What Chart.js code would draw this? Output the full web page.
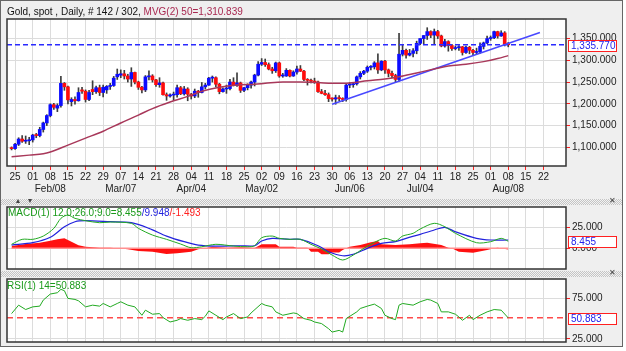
<!DOCTYPE html>
<html>
<head>
<meta charset="utf-8">
<script src="https://cdn.jsdelivr.net/npm/chart.js@4.4.0/dist/chart.umd.min.js"></script>
<style>
  body { margin: 0; background: #fff; font-family: "Liberation Sans", Arial, sans-serif; }
  #frame { position: absolute; left: 0; top: 0; width: 621px; height: 345px; background: #efefef; border: 1px solid #666; }
  canvas { position: absolute; left: 0; }
  .split { position: absolute; left: 1px; width: 621px; height: 6px;
    background-image: repeating-conic-gradient(#c4c4c4 0% 25%, #f2f2f2 0% 50%); background-size: 2px 2px; }
  .split .ic { position: absolute; top: -3px; font-size: 8px; color: #444; }
  .txt { position: absolute; font-size: 10px; line-height: 12px; white-space: pre; }
</style>
</head>
<body>
<div id="frame"></div>
<canvas id="main" width="626" height="197" style="top:0"></canvas>
<div class="split" style="top:199px"><span class="ic" style="left:15px">&#9652;</span><span class="ic" style="left:27px">&#9662;</span><span class="ic" style="left:608px">&#10005;</span></div>
<canvas id="macd" width="626" height="80" style="top:198px"></canvas>
<div class="split" style="top:271px"><span class="ic" style="left:608px">&#10005;</span></div>
<canvas id="rsi" width="626" height="81" style="top:270px"></canvas>
<div class="txt" style="left:7px;top:6px;color:#111">Gold, spot , Daily, # 142 / 302, <span style="color:#a82850">MVG(2) 50=1,310.839</span></div>
<div class="txt" style="left:8px;top:207px;color:#1a9a1a">MACD(1) 12.0;26.0;9.0=8.455<span style="color:#2222dd">/9.948</span><span style="color:#ff2020">/-1.493</span></div>
<div class="txt" style="left:7px;top:280px;color:#1a9a1a">RSI(1) 14=50.883</div>
<script>
// trading days: index 0 = Jan 22, 1 = Mon Jan 25, ... 141 = Mon Aug 08
const dayTicks = [1,6,11,16,21,26,31,36,41,46,51,56,61,66,71,76,81,86,91,96,101,106,111,116,121,126,131,136,141,146,151];
const dayLabels = ['25','01','08','15','22','29','07','14','21','28','04','11','18','25','02','09','16','23','30','06','13','20','27','04','11','18','25','01','08','15','22'];
const monthLabels = ['','','Feb/08','','','','Mar/07','','','','Apr/04','','','','May/02','','','','','Jun/06','','','','Jul/04','','','','','Aug/08','',''];

const open = [1098,1097,1107,1119,1114,1115,1117,1128,1127,1141,1156,1173,1198,1190,1196,1247,1239,1205,1210,1207,
  1232,1229,1210,1233,1228,1237,1226,1232,1240,1242,1262,1266,1269,1264,1257,1272,1250,1238,1232,1262,
  1264,1255,1244,1248,1221,1218,1220,1221,1237,1223,1234,1222,1218,1229,1226,1239,1243,1259,1260,1245,
  1228,1234,1235,1250,1242,1248,1231,1237,1243,1250,1266,1291,1295,1290,1280,1276,1294,1264,1264,1277,
  1264,1273,1280,1275,1256,1254,1252,1250,1228,1224,1221,1212,1211,1214,1212,1210,1243,1244,1246,1262,
  1270,1275,1284,1285,1294,1278,1298,1278,1270,1265,1256,1314,1323,1312,1316,1322,1339,1350,1357,1366,
  1358,1366,1356,1333,1343,1334,1327,1329,1331,1318,1330,1323,1318,1320,1332,1340,1350,1352,1366,1356,
  1363,1337];
const high = [1101,1109,1122,1127,1126,1123,1130,1132,1146,1158,1175,1200,1201,1200,1263,1249,1241,1214,1216,1237,
  1238,1232,1231,1253,1241,1243,1243,1242,1247,1263,1280,1278,1277,1268,1283,1273,1252,1240,1265,1276,
  1267,1256,1260,1250,1225,1223,1227,1243,1240,1240,1237,1224,1234,1231,1249,1247,1261,1264,1262,1247,
  1237,1243,1256,1260,1271,1250,1238,1246,1252,1268,1297,1304,1303,1294,1284,1296,1296,1270,1281,1278,
  1276,1287,1288,1277,1258,1257,1259,1252,1233,1231,1225,1214,1220,1219,1214,1245,1249,1248,1264,1274,
  1277,1287,1288,1297,1315,1299,1300,1280,1275,1268,1362,1336,1326,1325,1327,1344,1350,1357,1375,1368,
  1372,1369,1358,1348,1345,1337,1333,1334,1332,1333,1332,1325,1328,1340,1342,1356,1356,1367,1367,1368,
  1366,1341];
const low = [1094,1095,1104,1111,1109,1106,1112,1122,1124,1135,1150,1170,1187,1182,1192,1231,1200,1195,1199,1206,
  1224,1204,1207,1221,1224,1219,1216,1224,1233,1240,1256,1260,1257,1250,1240,1246,1233,1225,1228,1255,
  1250,1240,1238,1220,1208,1215,1208,1215,1221,1220,1207,1211,1214,1215,1225,1234,1242,1250,1239,1223,
  1227,1224,1232,1241,1240,1226,1228,1232,1236,1241,1264,1288,1286,1278,1270,1272,1261,1261,1263,1262,
  1263,1268,1274,1253,1243,1248,1247,1226,1223,1219,1205,1206,1199,1207,1205,1206,1237,1238,1243,1257,
  1267,1272,1278,1280,1270,1276,1270,1262,1260,1250,1252,1310,1305,1310,1308,1315,1336,1338,1348,1352,
  1338,1350,1331,1330,1321,1323,1324,1323,1312,1316,1315,1312,1315,1316,1326,1338,1346,1350,1351,1355,
  1333,1331];
const close = [1097,1107,1119,1114,1115,1117,1128,1127,1141,1156,1173,1198,1192,1196,1247,1239,1209,1210,1207,1226,
  1229,1210,1226,1228,1237,1226,1238,1240,1242,1259,1268,1269,1264,1257,1272,1250,1238,1232,1262,1264,
  1255,1244,1248,1221,1218,1220,1221,1237,1223,1234,1222,1218,1229,1226,1239,1243,1259,1260,1245,1228,
  1234,1235,1250,1242,1248,1231,1237,1243,1250,1266,1291,1295,1290,1280,1276,1294,1264,1264,1277,1264,
  1273,1280,1275,1256,1254,1252,1250,1228,1224,1221,1212,1211,1214,1212,1210,1243,1245,1246,1262,1270,
  1275,1284,1285,1294,1278,1298,1278,1270,1265,1256,1314,1323,1312,1316,1322,1339,1350,1357,1366,1358,
  1366,1356,1333,1343,1334,1327,1329,1331,1318,1330,1323,1318,1320,1332,1340,1350,1352,1366,1356,1363,
  1336,1335.77];
const lastPrice = 1335.77;

// 50-day moving average
const maDay   = [0,5,9,11,16,21,26,31,36,40,45,50,54,59,64,69,72,77,82,87,91,96,101,106,110,115,120,124,129,134,138,141];
const maValue = [1078,1082,1085,1089,1105,1121,1137,1156,1174,1189,1204,1217,1229,1238,1243,1245,1247,1250,1250,1249,1247,1248,1253,1257,1262,1271,1280,1287,1291,1297,1304,1310.839];

// support trend line
const trendDay = [91, 150];
const trendValue = [1199, 1364];

// MACD panel
const macdDay   = [0,3,6,9,12,14,16,18,21,25,28,34,36,40,44,48,51,54,58,63,67,69,71,74,76,79,82,85,88,91,94,97,100,103,106,109,111,114,116,120,123,126,132,136,139,141];
const macdValue = [4.8,10.7,10.7,14.6,23.8,35.7,39.6,35.7,32.9,30.5,31.3,29.8,23.8,15.8,10.7,5.1,0.7,1.9,4.8,2.7,1.9,3.1,12.6,14.6,11.9,10.7,10.7,4.8,-0.8,-8,-13.9,-8,0,7.1,11.9,8.7,14.6,17.9,23,29.8,25.7,17.9,6.7,7.9,11.9,8.455];
const signalDay   = [0,6,11,15,18,21,28,34,39,44,49,53,58,65,69,71,74,79,82,87,90,94,97,101,105,109,112,116,120,123,126,132,136,141];
const signalValue = [3.9,6.7,13.1,25.7,31.7,32.9,31.7,30.5,23.8,14.6,7.9,3.9,2.7,3.1,3.1,8.7,11.9,10.7,10.7,3.1,-4,-8.8,-7.1,0,6,7.9,11.9,16.7,21.8,25,19.8,11.9,9.9,9.948];
const histDay   = [0,4,8,11,13,15,16,19,21,25,28,30,33,36,40,44,47,51,53,55,57,61,65,69,71,75,76,80,81,84,85,87,88,90,91,93,94,95,96,99,102,104,105,109,113,116,118,122,124,125,127,131,135,137,138,141];
const histValue = [2.7,5.1,6.7,9,10.7,11.9,10,3.6,1.9,0.7,0.7,0,-1.2,-3.2,-4,-6.8,-6,-4,-1.2,0,1.9,0.7,1.2,0.5,4.8,4.8,1.9,1.9,0.8,0.8,-4,-4,-7.1,-7.1,-5,-5,-2,0,1.9,3.9,7.1,8.7,4.8,3.9,4.8,6,6.7,3.9,0.7,0,-4,-5.2,-2,0,0.7,-1.493];

// RSI panel
const rsiDay   = [0,2,4,6,8,9,11,13,14,15,16,18,19,21,23,25,26,28,30,31,33,35,37,38,40,42,43,45,47,48,50,52,54,55,56,58,60,61,63,65,67,68,71,72,74,75,77,80,81,83,85,86,88,90,91,93,94,95,98,99,101,103,105,106,108,109,110,111,114,116,118,119,121,122,124,126,127,128,130,131,133,135,137,139,141];
const rsiValue = [56.2,66.6,61.2,64.5,65.4,72.9,80.4,82,86.2,84.5,75,73.7,72,64.5,66.6,65.4,68.7,64.5,68.7,70.8,66.6,64.5,54.1,60.4,55.4,56.2,51.2,45.8,47.9,50,47.9,50,48.7,52.9,59.5,54.1,48.7,52,56.2,50,52,57,68.7,66.6,64.5,58.3,54.1,57,56.2,50,47.9,45.8,43.8,37.5,33.3,35.4,33.3,50,58.3,62.5,65.4,67.9,62.5,54.1,50,48.7,66.6,68.7,66.6,70.8,73.7,72.9,68.7,58.3,58.3,55.4,52,47.9,54.1,48.7,54.1,58.3,61.2,60.4,50.883];
const rsiLast = 50.883;

const xMin = -1.3, xMax = 157.4;
const gridColor = '#dcdcdc';
const fmt = v => v.toLocaleString('en-US', { minimumFractionDigits: 3, maximumFractionDigits: 3 });
const pts = (xs, ys) => xs.map((x, i) => ({ x: x, y: ys[i] }));

Chart.defaults.font.family = '"Liberation Sans", Arial, sans-serif';
Chart.defaults.font.size = 10;
Chart.defaults.color = '#222';

// white plot, dark frame, value box on the right axis
const panel = {
  id: 'panel',
  beforeDraw(chart) {
    const { ctx, chartArea: a } = chart;
    ctx.save();
    ctx.fillStyle = '#fff';
    ctx.fillRect(a.left, a.top, a.width, a.height);
    ctx.restore();
  },
  afterDraw(chart, args, opts) {
    const { ctx, chartArea: a } = chart;
    ctx.save();
    ctx.strokeStyle = '#333';
    ctx.lineWidth = 1.5;
    ctx.strokeRect(a.left, a.top, a.width, a.height);
    if (opts.value !== undefined) {
      const y = Math.round(chart.scales.y.getPixelForValue(opts.value));
      ctx.fillStyle = '#fff';
      ctx.fillRect(a.right + 2, y - 5, 48, 11);
      ctx.strokeStyle = '#ff2020';
      ctx.lineWidth = 1;
      ctx.strokeRect(a.right + 2.5, y - 4.5, 48, 11);
      ctx.fillStyle = '#2222ee';
      ctx.font = '10px "Liberation Sans", Arial, sans-serif';
      ctx.textBaseline = 'middle';
      ctx.fillText(opts.text, a.right + 5, y + 1);
    }
    ctx.restore();
  }
};

function xAxis(showLabels) {
  return {
    type: 'linear', min: xMin, max: xMax, offset: false,
    afterBuildTicks: s => { s.ticks = dayTicks.map(v => ({ value: v })); },
    afterFit: s => { s.height = showLabels ? 31 : 0; },
    ticks: {
      display: showLabels, autoSkip: false, maxRotation: 0, padding: 1,
      callback: v => { const k = dayTicks.indexOf(v); return [dayLabels[k], monthLabels[k]]; }
    },
    grid: { color: gridColor, offset: false, drawTicks: showLabels, tickColor: '#ff2020', tickLength: 4 },
    border: { display: false }
  };
}

function yAxis(min, max, ticks) {
  return {
    position: 'right', min: min, max: max, beginAtZero: false,
    afterBuildTicks: s => { s.ticks = ticks.map(v => ({ value: v })); },
    afterFit: s => { s.width = 60; },
    ticks: { padding: 2, callback: v => fmt(v) },
    grid: { color: gridColor, tickColor: '#ff2020', tickLength: 4 },
    border: { display: false }
  };
}

const common = {
  responsive: false, animation: false, devicePixelRatio: 1,
  plugins: { legend: { display: false }, tooltip: { enabled: false } },
  elements: { point: { radius: 0 } }
};

// price panel
new Chart(document.getElementById('main'), {
  type: 'bar',
  data: {
    datasets: [
      { type: 'line', data: pts(maDay, maValue), borderColor: '#a8385a', borderWidth: 1.5, cubicInterpolationMode: 'monotone', order: 0 },
      { type: 'line', data: pts(trendDay, trendValue), borderColor: '#4848ff', borderWidth: 1.5, order: 0 },
      { type: 'line', data: [{ x: xMin, y: lastPrice }, { x: xMax, y: lastPrice }], borderColor: '#2a2aff', borderWidth: 1.3, borderDash: [5, 3], order: 0 },
      { data: close.map((c, i) => ({ x: i, y: [open[i], c] })), backgroundColor: close.map((c, i) => c >= open[i] ? '#0c0cff' : '#ff0c0c'),
        barThickness: 3, grouped: false, minBarLength: 1, order: 1 },
      { data: high.map((h, i) => ({ x: i, y: [low[i], h] })), backgroundColor: '#3c3c3c', barThickness: 1, grouped: false, order: 2 }
    ]
  },
  options: Object.assign({}, common, {
    layout: { padding: { left: 7, top: 19, right: 0, bottom: 0 } },
    scales: { x: xAxis(true), y: yAxis(1057, 1395, [1100, 1150, 1200, 1250, 1300, 1350]) },
    plugins: Object.assign({}, common.plugins, { panel: { value: lastPrice, text: fmt(lastPrice) } })
  }),
  plugins: [panel]
});

// MACD panel
new Chart(document.getElementById('macd'), {
  type: 'line',
  data: {
    datasets: [
      { data: pts(macdDay, macdValue), borderColor: '#22aa22', borderWidth: 1, tension: 0.3, order: 0 },
      { data: pts(signalDay, signalValue), borderColor: '#2222dd', borderWidth: 1.2, tension: 0.3, order: 0 },
      { data: [{ x: 0, y: 0 }, { x: 141, y: 0 }], borderColor: '#ff9090', borderWidth: 1.5, order: 1 },
      { data: pts(histDay, histValue), borderWidth: 0, backgroundColor: '#ff1010', fill: 'origin', order: 2 }
    ]
  },
  options: Object.assign({}, common, {
    layout: { padding: { left: 7, top: 9, right: 0, bottom: 9 } },
    scales: { x: xAxis(false), y: yAxis(-24.6, 49.2, [0, 25]) },
    plugins: Object.assign({}, common.plugins, { panel: { value: macdValue[macdValue.length - 1], text: '8.455' } })
  }),
  plugins: [panel]
});

// RSI panel
new Chart(document.getElementById('rsi'), {
  type: 'line',
  data: {
    datasets: [
      { data: pts(rsiDay, rsiValue), borderColor: '#22aa22', borderWidth: 1, order: 0 },
      { data: [{ x: xMin, y: rsiLast }, { x: xMax, y: rsiLast }], borderColor: '#ff4a4a', borderWidth: 1.5, borderDash: [6, 4], order: 1 }
    ]
  },
  options: Object.assign({}, common, {
    layout: { padding: { left: 7, top: 9, right: 0, bottom: 9 } },
    scales: { x: xAxis(false), y: yAxis(21, 99, [25, 75]) },
    plugins: Object.assign({}, common.plugins, { panel: { value: rsiLast, text: fmt(rsiLast) } })
  }),
  plugins: [panel]
});
</script>
</body>
</html>
